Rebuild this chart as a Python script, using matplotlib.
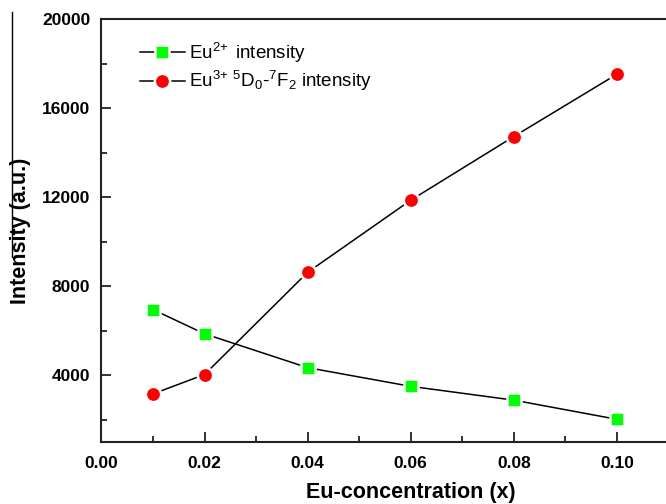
import matplotlib
matplotlib.use('Agg')
import matplotlib.pyplot as plt
from matplotlib.lines import Line2D
from matplotlib.ticker import MultipleLocator

conc = [0.01, 0.02, 0.04, 0.06, 0.08, 0.10]
eu2_intensity = [6950, 5860, 4340, 3500, 2880, 2020]
eu3_intensity = [3160, 4030, 8620, 11860, 14720, 17520]

x_ticks = [0.00, 0.02, 0.04, 0.06, 0.08, 0.10]
y_ticks = [4000, 8000, 12000, 16000, 20000]

plt.rcParams['font.family'] = ['Liberation Sans', 'DejaVu Sans']
plt.rcParams['mathtext.fontset'] = 'custom'
plt.rcParams['mathtext.rm'] = 'Liberation Sans'
plt.rcParams['mathtext.it'] = 'Liberation Sans:italic'
plt.rcParams['mathtext.bf'] = 'Liberation Sans:bold'

W, H = 666, 504
fig = plt.figure(figsize=(W / 100, H / 100), dpi=100)
# axes run past the right edge, as in the cropped original
left, right, top, bottom = 101.4, 720.0, 19.0, 442.0
ax = fig.add_axes([left / W, 1 - bottom / H, (right - left) / W, (bottom - top) / H])

ax.plot(conc, eu2_intensity, color='black', lw=1.1, marker='s', markersize=10,
        markerfacecolor='#00ff00', markeredgecolor='white', markeredgewidth=1.8,
        label=r'$\mathrm{Eu^{2\!+}}$ intensity')
ax.plot(conc, eu3_intensity, color='black', lw=1.1, marker='o', markersize=11,
        markerfacecolor='#ff0000', markeredgecolor='white', markeredgewidth=1.8,
        label=r'$\mathrm{Eu^{3\!+}\,^{5}D_{0}}$-$\mathrm{^{7}F_{2}}$ intensity')

ax.set_xlim(0, 0.12)
ax.set_ylim(1000, 20000)
ax.set_xticks(x_ticks)
ax.set_xticklabels([f'{v:.2f}' for v in x_ticks])
ax.set_yticks(y_ticks)
ax.set_yticklabels([str(v) for v in y_ticks])
ax.xaxis.set_minor_locator(MultipleLocator(0.01))
ax.yaxis.set_minor_locator(MultipleLocator(2000))

ax.tick_params(which='both', direction='in', color='#222222', width=1.3,
               top=False, right=False, labelsize=12.5)
ax.tick_params(which='major', length=7)
ax.tick_params(which='minor', length=4)
ax.tick_params(axis='x', pad=10)
ax.tick_params(axis='y', pad=8)
for lab in ax.get_xticklabels() + ax.get_yticklabels():
    lab.set_fontweight('bold')

for s in ax.spines.values():
    s.set_linewidth(1.5)
    s.set_color('#222222')

ax.set_xlabel('Eu-concentration (x)', fontsize=15.5, fontweight='bold', labelpad=8)
ax.set_ylabel('Intensity (a.u.)', fontsize=15.5, fontweight='bold', labelpad=8)

leg = ax.legend(loc='upper left', bbox_to_anchor=(0.05, 0.967), frameon=False,
                fontsize=13.5, handlelength=2.4, handletextpad=0.2,
                labelspacing=0.25, borderaxespad=0)

# stray vertical line at the left edge of the scanned original
fig.add_artist(Line2D([12 / W, 12 / W], [1 - 12 / H, 1 - 257 / H], color='black', lw=1))

fig.savefig('out.png', dpi=100)
